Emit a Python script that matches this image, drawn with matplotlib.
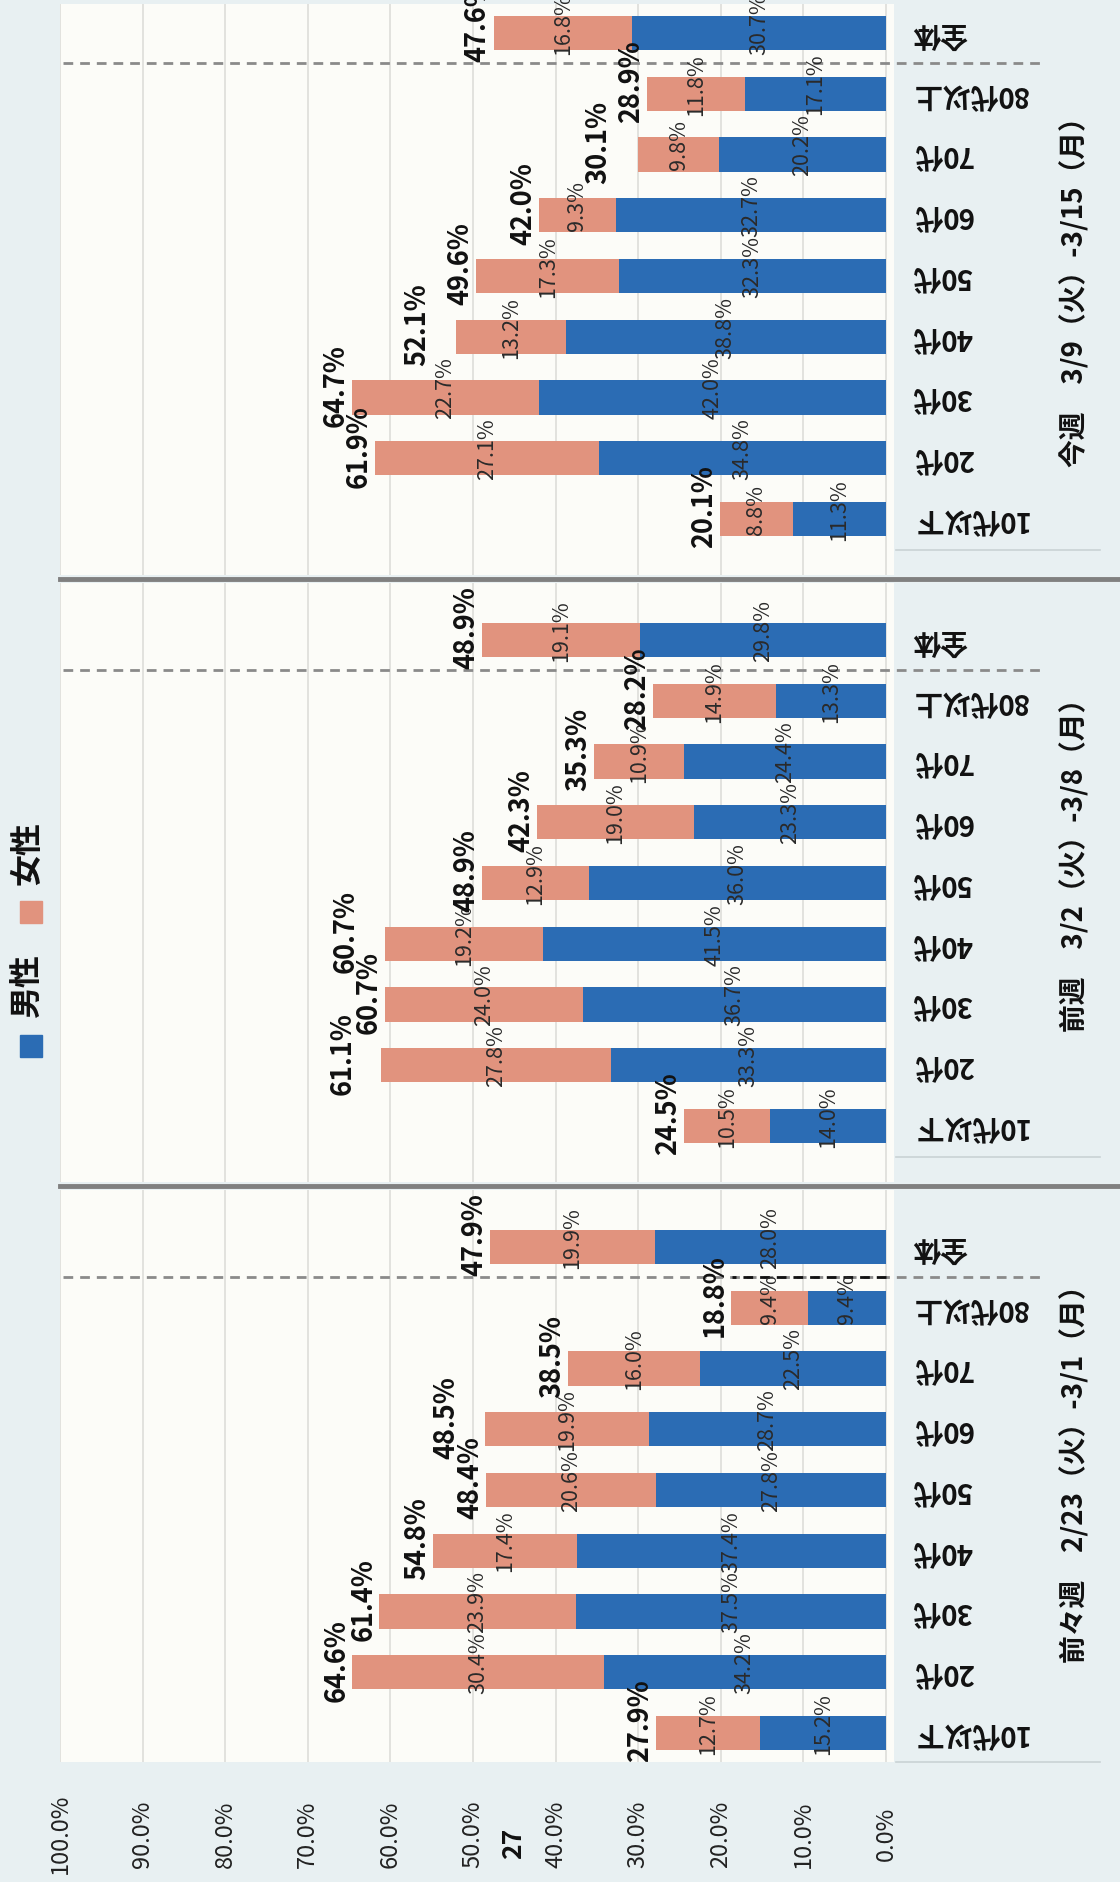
import matplotlib
matplotlib.use("Agg")
import matplotlib.pyplot as plt
from matplotlib.patches import Rectangle
from matplotlib.lines import Line2D

plt.rcParams['font.family'] = ['Noto Sans CJK JP', 'DejaVu Sans']
plt.rcParams['lines.scale_dashes'] = False

# ---------------- data ----------------
categories = ["10代以下", "20代", "30代", "40代", "50代", "60代", "70代", "80代以上", "全体"]
period_labels = ["今週　3/9（火）-3/15（月）",
                 "前週　3/2（火）-3/8（月）",
                 "前々週　2/23（火）-3/1（月）"]

male_this = [11.3, 34.8, 42.0, 38.8, 32.3, 32.7, 20.2, 17.1, 30.7]
female_this = [8.8, 27.1, 22.7, 13.2, 17.3, 9.3, 9.8, 11.8, 16.8]
total_this = [20.1, 61.9, 64.7, 52.1, 49.6, 42.0, 30.1, 28.9, 47.6]

male_prev = [14.0, 33.3, 36.7, 41.5, 36.0, 23.3, 24.4, 13.3, 29.8]
female_prev = [10.5, 27.8, 24.0, 19.2, 12.9, 19.0, 10.9, 14.9, 19.1]
total_prev = [24.5, 61.1, 60.7, 60.7, 48.9, 42.3, 35.3, 28.2, 48.9]

male_prev2 = [15.2, 34.2, 37.5, 37.4, 27.8, 28.7, 22.5, 9.4, 28.0]
female_prev2 = [12.7, 30.4, 23.9, 17.4, 20.6, 19.9, 16.0, 9.4, 19.9]
total_prev2 = [27.9, 64.6, 61.4, 54.8, 48.4, 48.5, 38.5, 18.8, 47.9]

tick_values = [0, 10, 20, 30, 40, 50, 60, 70, 80, 90, 100]
tick_labels = ["0.0%", "10.0%", "20.0%", "30.0%", "40.0%", "50.0%",
               "60.0%", "70.0%", "80.0%", "90.0%", "100.0%"]
legend_labels = ["男性", "女性"]
page_number = "27"

# ---------------- style ----------------
BG = '#e8f0f2'
PLOT_BG = '#fcfcf8'
BLUE = '#2b6cb4'
PINK = '#e1937e'
GRID = '#e0e0dc'

W, H = 1120, 1882
fig = plt.figure(figsize=(W / 100, H / 100), dpi=100)
fig.patch.set_facecolor(BG)


def fx(px):
    return px / W


def fy(py):
    return 1 - py / H


left_px, zero_px, right_px = 60, 886, 894
px_per_pct = (zero_px - left_px) / 100.0
panel_bounds = [(4, 575), (583, 1182), (1190, 1762)]
top_cat_px = [33, 640, 1247]      # centre of 全体
bot_cat_px = [519, 1126, 1733]    # centre of 10代以下
period_centers = [285, 858, 1467]

series = [(male_this, female_this, total_this),
          (male_prev, female_prev, total_prev),
          (male_prev2, female_prev2, total_prev2)]

ypos = list(range(len(categories)))


def label_offsets(total, base=1.9, extra=2.8, close=2.6):
    """Push one of two neighbouring total labels outward when values are close."""
    n = len(total)
    shifted = [False] * n
    for i in range(1, n):
        if abs(total[i] - total[i - 1]) < close and not shifted[i] and not shifted[i - 1]:
            j = i if total[i] >= total[i - 1] else i - 1
            shifted[j] = True
    return [base + (extra if s else 0.0) for s in shifted]


for k, (male, female, total) in enumerate(series):
    top, bot = panel_bounds[k]
    unit = (bot_cat_px[k] - top_cat_px[k]) / (len(categories) - 1)
    ax = fig.add_axes([fx(left_px), fy(bot), fx(right_px) - fx(left_px), (bot - top) / H])
    ax.set_facecolor(PLOT_BG)
    ax.set_xlim(100, -(right_px - zero_px) / px_per_pct)
    ax.set_ylim(-(bot - bot_cat_px[k]) / unit, 8 + (top_cat_px[k] - top) / unit)
    for s in ax.spines.values():
        s.set_visible(False)
    ax.set_xticks(tick_values)
    ax.grid(axis='x', color=GRID, lw=1.3)
    ax.set_axisbelow(True)

    ax.barh(ypos, male, height=0.56, color=BLUE, zorder=2)
    ax.barh(ypos, female, left=male, height=0.56, color=PINK, zorder=2)

    offs = label_offsets(total)
    for i in ypos:
        ax.text(male[i] / 2, i + 0.15, f"{male[i]:.1f}%", rotation=90,
                ha='center', va='center', fontsize=15.5,
                color='#2a2a2a', zorder=4)
        ax.text(male[i] + female[i] / 2, i + 0.15, f"{female[i]:.1f}%", rotation=90,
                ha='center', va='center', fontsize=15.5,
                color='#2a2a2a', zorder=4)
        ax.text(total[i] + offs[i], i + 0.2, f"{total[i]:.1f}%", rotation=90,
                ha='center', va='center', fontsize=19.5, fontweight='bold',
                color='#111111', zorder=4)

    # dashed divider between 全体 and the age groups
    ax.plot([0.004, (1045 - left_px) / (right_px - left_px)], [7.5, 7.5],
            transform=ax.get_yaxis_transform(), clip_on=False,
            color='#8a8a8a', lw=2.0, ls=(0, (7, 5)), zorder=3)

    # category labels (upside down, on the right)
    ax.yaxis.tick_right()
    ax.set_yticks(ypos)
    ax.set_yticklabels(categories)
    ax.tick_params(axis='y', length=0, pad=13, labelsize=20, labelrotation=180)
    for lab in ax.get_yticklabels():
        lab.set_va('center')
        lab.set_ha('left')
        lab.set_fontweight('bold')
        lab.set_color('#111111')

    if k == 2:
        ax.set_xticklabels(tick_labels)
        ax.tick_params(axis='x', length=0, pad=52, labelsize=17,
                       labelrotation=90, labelcolor='#222222')
        for lab in ax.get_xticklabels():
            lab.set_va('center')
        # black dashed mark (scan annotation)
        ax.plot([0, 18.6], [7.5, 7.5], color='#111111', lw=2.0,
                ls=(0, (7, 5)), zorder=3)
    else:
        ax.tick_params(axis='x', length=0, labelbottom=False)

    fig.text(fx(1075), fy(period_centers[k]), period_labels[k], rotation=90,
             ha='center', va='center', fontsize=20, fontweight='bold', color='#111111')

    # thin line at bottom of label column
    line_y = bot - 25 if k < 2 else bot
    fig.add_artist(Line2D([fx(896), fx(1100)], [fy(line_y), fy(line_y)],
                          color='#c9d2d5', lw=1.2))

# panel separators
for sy in (579, 1186):
    fig.add_artist(Line2D([fx(left_px), 1.0], [fy(sy), fy(sy)], color='#808080', lw=3.5))

# legend
legend_colors = [BLUE, PINK]
sq_centers = [1046, 912]
txt_centers = [986, 853]
for lab, col, sc, tc in zip(legend_labels, legend_colors, sq_centers, txt_centers):
    fig.add_artist(Rectangle((fx(20), fy(sc + 11)), 22 / W, 22 / H,
                             transform=fig.transFigure, color=col))
    fig.text(fx(28), fy(tc), lab, rotation=90, ha='center', va='center',
             fontsize=23, fontweight='bold', color='#111111')

fig.text(fx(514), fy(1843), page_number, rotation=90, ha='center', va='center',
         fontsize=19, fontweight='bold', color='#111111')

fig.savefig("out.png", dpi=100, facecolor=fig.get_facecolor())
